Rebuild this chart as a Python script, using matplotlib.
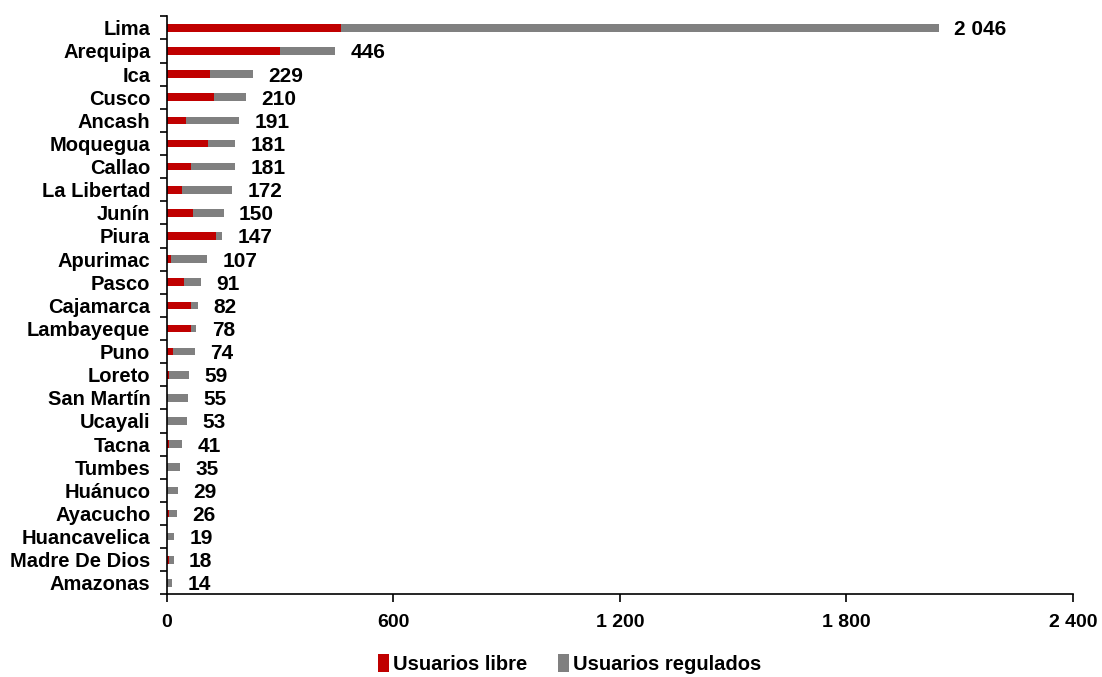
import numpy as np
import matplotlib
matplotlib.use("Agg")
import matplotlib.pyplot as plt
from matplotlib.ticker import FuncFormatter, FixedLocator

plt.rcParams['font.family'] = ['Liberation Sans', 'DejaVu Sans']
plt.rcParams['font.weight'] = 'bold'

regions = ["Lima", "Arequipa", "Ica", "Cusco", "Ancash", "Moquegua", "Callao",
           "La Libertad", "Junín", "Piura", "Apurimac", "Pasco", "Cajamarca",
           "Lambayeque", "Puno", "Loreto", "San Martín", "Ucayali", "Tacna",
           "Tumbes", "Huánuco", "Ayacucho", "Huancavelica", "Madre De Dios",
           "Amazonas"]
totals = [2046, 446, 229, 210, 191, 181, 181, 172, 150, 147, 107, 91, 82,
          78, 74, 59, 55, 53, 41, 35, 29, 26, 19, 18, 14]
libres = [461, 300, 114, 125, 50, 110, 65, 40, 70, 130, 11, 46, 65,
          65, 16, 5, 0, 0, 5, 0, 0, 5, 0, 5, 0]
regulados = [t - l for t, l in zip(totals, libres)]

red = "#C00000"
gray = "#808080"


def fmt(v, pos=None):
    return f"{int(v):,}".replace(",", " ")


fig = plt.figure(figsize=(11.02, 6.77), dpi=100)
ax = fig.add_axes([0.1515, 0.122, 0.822, 0.854])

y = np.arange(len(regions))
h = 0.33
ax.barh(y, libres, height=h, color=red, label="Usuarios libre")
ax.barh(y, regulados, left=libres, height=h, color=gray, label="Usuarios regulados")

for yi, t in zip(y, totals):
    ax.annotate(fmt(t), (t, yi), xytext=(11, 0), textcoords="offset points",
                va="center_baseline", ha="left", fontsize=15, fontweight="bold")

ax.set_ylim(len(regions) - 0.5, -0.5)
ax.set_xlim(0, 2400)
ax.set_xticks([0, 600, 1200, 1800, 2400])
ax.xaxis.set_major_formatter(FuncFormatter(fmt))
ax.set_yticks(y)
ax.set_yticklabels(regions)
ax.yaxis.set_minor_locator(FixedLocator(np.arange(-0.5, len(regions), 1)))
ax.tick_params(axis="y", which="major", length=0, pad=12, labelsize=14.5)
ax.tick_params(axis="y", which="minor", length=5, width=1.2, direction="out")
ax.tick_params(axis="x", length=6, width=1.2, pad=8, labelsize=14)

for s in ["top", "right"]:
    ax.spines[s].set_visible(False)
ax.spines["left"].set_linewidth(1.2)
ax.spines["bottom"].set_linewidth(1.2)

fig.legend(loc="lower center", bbox_to_anchor=(0.517, -0.022), ncol=2,
           frameon=False, fontsize=14.5, handlelength=0.55, handleheight=1.0,
           handletextpad=0.2, columnspacing=1.5)

fig.savefig("out.png", dpi=100)
